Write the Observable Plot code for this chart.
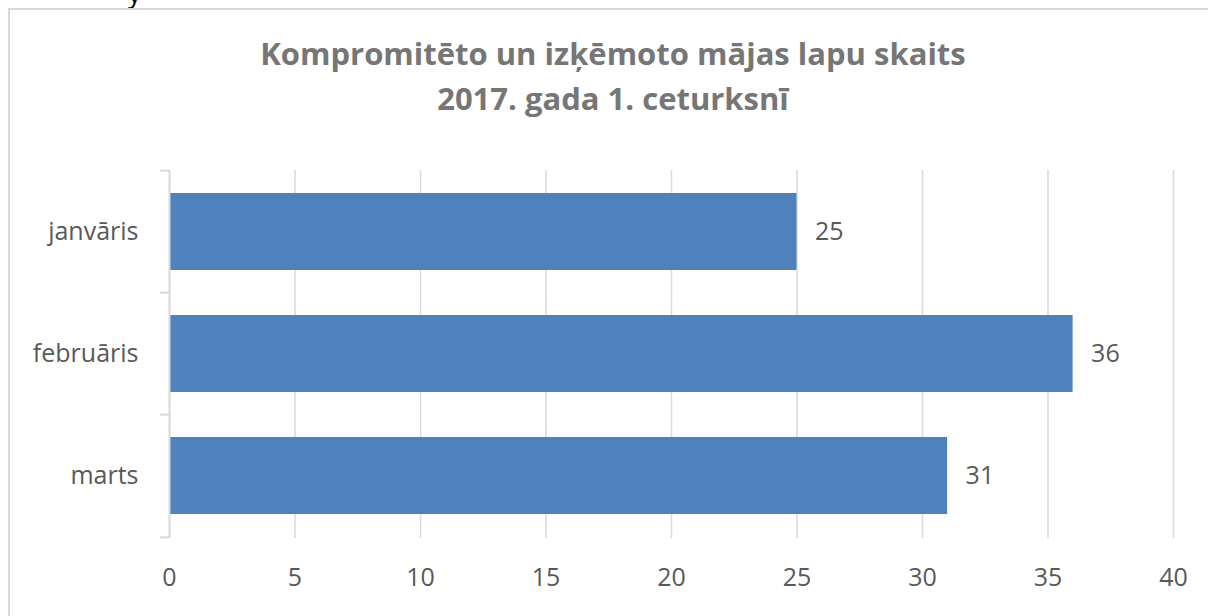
<!DOCTYPE html>
<html>
<head>
<meta charset="utf-8">
<script src="https://cdn.jsdelivr.net/npm/d3@7"></script>
<script src="https://cdn.jsdelivr.net/npm/@observablehq/plot@0.6"></script>
<style>
  html, body { margin: 0; padding: 0; background: #fff; }
  body { width: 1208px; height: 616px; position: relative; overflow: hidden; font-family: "Open Sans", sans-serif; }
  #frame { position: absolute; left: 8px; top: 8px; width: 1230px; height: 640px; border: 2px solid #d9d9d9; box-sizing: border-box; }
  #cut { position: absolute; left: 128px; top: -20px; font-size: 26px; line-height: 26px; color: #000; font-family: "Open Sans", sans-serif; }
  #title { position: absolute; left: 0; top: 31px; width: 1226px; text-align: center; font-weight: bold; font-size: 31px; color: #767676; line-height: 45px; }
  #chart { position: absolute; left: 0; top: 0; }
</style>
</head>
<body>
<div id="cut">y</div>
<div id="frame"></div>
<div id="title">Kompromitēto un izķēmoto mājas lapu skaits<br>2017. gada 1. ceturksnī</div>
<div id="chart"></div>
<script>
const months = ["janvāris", "februāris", "marts"];
const counts = [25, 36, 31];
const xTicks = [0, 5, 10, 15, 20, 25, 30, 35, 40];

const data = months.map((m, i) => ({month: m, value: counts[i]}));

const W = 1208, H = 616;
const mt = 170, mb = 78, ml = 169, mr = 35;
const step = (H - mt - mb) / months.length;
const grey = "#595959";
const lineGrey = "#d9d9d9";

const plot = Plot.plot({
  width: W,
  height: H,
  marginTop: mt,
  marginBottom: mb,
  marginLeft: ml,
  marginRight: mr,
  style: {fontFamily: "'Open Sans', sans-serif", background: "transparent", color: grey, overflow: "visible"},
  x: {domain: [0, 40], ticks: xTicks},
  y: {domain: months, paddingInner: 0.365, paddingOuter: 0.1825},
  marks: [
    Plot.ruleX(xTicks.filter(t => t > 0), {stroke: lineGrey, strokeWidth: 1.5}),
    Plot.barX(data, {y: "month", x: "value", fill: "#4f81bd"}),
    Plot.ruleX([0], {stroke: lineGrey, strokeWidth: 2}),
    Plot.ruleY(months, {y: d => d, x1: -0.36, x2: 0, dy: -step / 2, stroke: lineGrey, strokeWidth: 2}),
    Plot.ruleY([months[months.length - 1]], {y: d => d, x1: -0.36, x2: 0, dy: step / 2, stroke: lineGrey, strokeWidth: 2}),
    Plot.text(data, {y: "month", x: "value", text: d => String(d.value), dx: 18, textAnchor: "start", fontSize: 25, fill: grey}),
    Plot.axisX({ticks: xTicks, tickSize: 0, tickPadding: 30, fontSize: 25, fill: grey, label: null}),
    Plot.axisY({tickSize: 0, tickPadding: 31, fontSize: 25, fill: grey, label: null})
  ]
});
document.getElementById("chart").appendChild(plot);
</script>
</body>
</html>
